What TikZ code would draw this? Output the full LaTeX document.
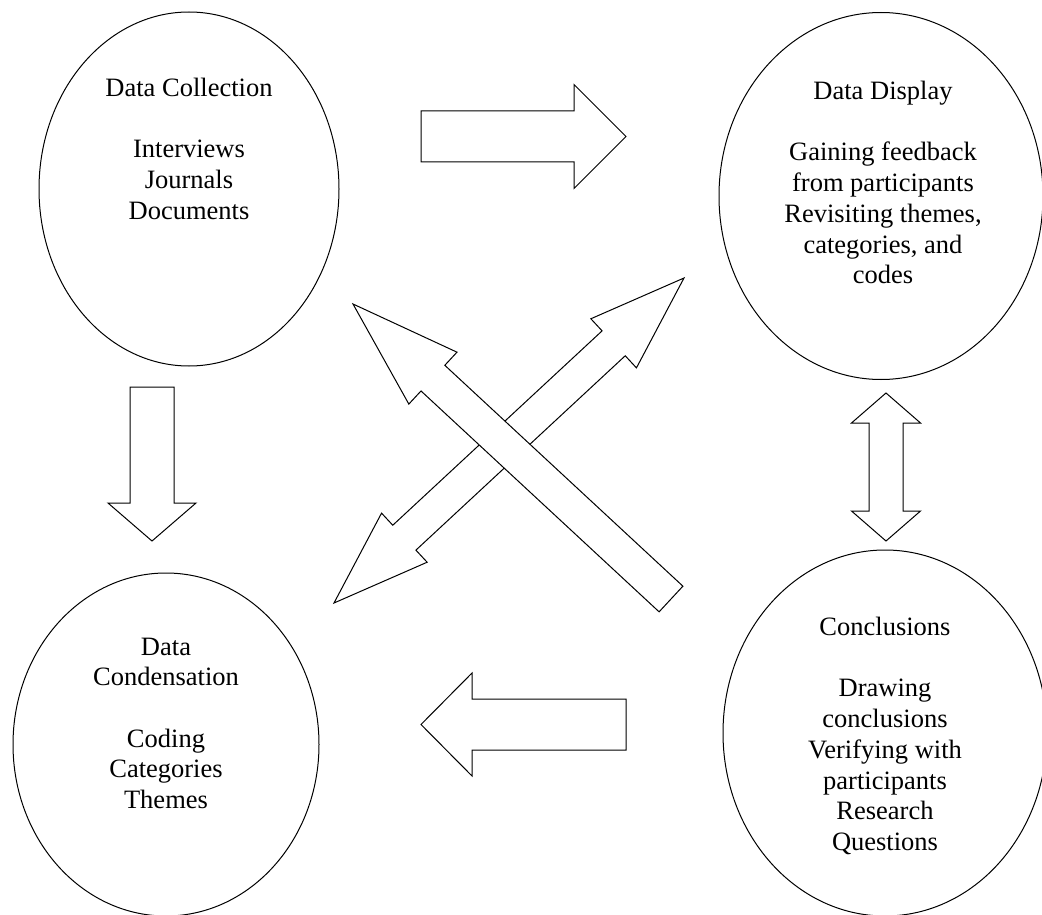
\documentclass[tikz,border=0pt]{standalone}
\usepackage{fontspec}
\setmainfont{Liberation Serif}
\usetikzlibrary{calc,positioning,shapes.geometric}

% block arrow: tail, tip, half shaft, half head, head length
\newcommand{\onearrow}[5]{%
  \coordinate (#2-b) at ($(#2)!#5!(#1)$);
  \draw[blk] ($(#1)!#3!90:(#2)$) -- ($(#2-b)!#3!90:(#2)$) -- ($(#2-b)!#4!90:(#2)$) -- (#2)
    -- ($(#2-b)!#4!-90:(#2)$) -- ($(#2-b)!#3!-90:(#2)$) -- ($(#1)!#3!-90:(#2)$) -- cycle;}
% block arrow with two heads
\newcommand{\twoarrow}[5]{%
  \coordinate (#1-b) at ($(#1)!#5!(#2)$);
  \coordinate (#2-b) at ($(#2)!#5!(#1)$);
  \draw[blk] (#1) -- ($(#1-b)!#4!90:(#2)$) -- ($(#1-b)!#3!90:(#2)$) -- ($(#2-b)!#3!90:(#2)$)
    -- ($(#2-b)!#4!90:(#2)$) -- (#2) -- ($(#2-b)!#4!-90:(#2)$) -- ($(#2-b)!#3!-90:(#2)$)
    -- ($(#1-b)!#3!-90:(#2)$) -- ($(#1-b)!#4!-90:(#2)$) -- cycle;}

\begin{document}
\begin{tikzpicture}[x=1pt,y=-1pt,
  bubble/.style={ellipse,draw,line width=1pt,outer sep=0pt,inner sep=0pt},
  txt/.style={align=center,inner sep=0pt,font=\fontsize{26.5}{30.7}\selectfont},
  blk/.style={draw,fill=white,line width=1pt,line join=miter}]

\useasboundingbox (0,0) rectangle (1042,915);

% the four stages
\node[bubble,minimum width=300pt,minimum height=354pt] (collect) at (189,189) {};
\node[bubble,minimum width=324pt,minimum height=367pt] (display) at (881,196) {};
\node[bubble,minimum width=306pt,minimum height=343pt] (condense) at (166,744.5) {};
\node[bubble,minimum width=324pt,minimum height=366pt] (concl) at (885,733) {};

\node[txt,below=65.7pt of collect.north] (collect-t)
  {Data Collection\\[30.7pt]Interviews\\Journals\\Documents};
\node[txt,below=68.5pt of display.north,xshift=2pt] (display-t)
  {Data Display\\[30.7pt]Gaining feedback\\from participants\\Revisiting themes,\\categories, and\\codes};
\node[txt,below=64.5pt of condense.north] (condense-t)
  {Data\\Condensation\\[30.7pt]Coding\\Categories\\Themes};
\node[txt,below=67pt of concl.north] (concl-t)
  {Conclusions\\[30.7pt]Drawing\\conclusions\\Verifying with\\participants\\Research\\Questions};

% arrow ends
\coordinate (r-tail) at (421,136.5);
\coordinate (r-tip) at (626,136.5);
\coordinate (d-tail) at (152,387);
\coordinate (d-tip) at (152,541);
\coordinate (l-tail) at (626,724.5);
\coordinate (l-tip) at (421,724.5);
\coordinate (v-top) at (886,393);
\coordinate (v-bot) at (886,541);
\coordinate (y-low) at (334,603);
\coordinate (y-high) at (684,278);
\coordinate (x-tail) at (671,599);
\coordinate (x-tip) at (353,304);

\onearrow{r-tail}{r-tip}{25.5pt}{52pt}{52pt}
\onearrow{d-tail}{d-tip}{22pt}{44pt}{38pt}
\onearrow{l-tail}{l-tip}{25.5pt}{51.5pt}{51pt}
\twoarrow{v-top}{v-bot}{17pt}{34.5pt}{30pt}
\twoarrow{y-low}{y-high}{17pt}{33.5pt}{96pt}
\onearrow{x-tail}{x-tip}{17.5pt}{35.4pt}{109pt}

\end{tikzpicture}
\end{document}
